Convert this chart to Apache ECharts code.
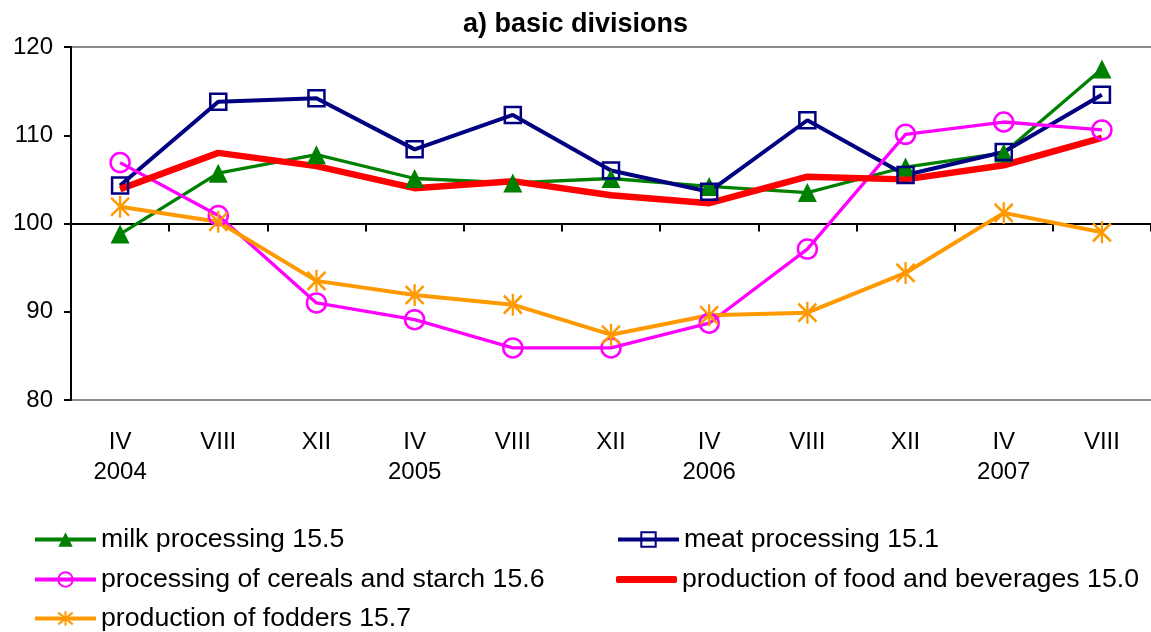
<!DOCTYPE html>
<html><head><meta charset="utf-8">
<script src="https://cdn.jsdelivr.net/npm/echarts@6/dist/echarts.min.js"></script>
<style>html,body{margin:0;padding:0;background:#fff}#c{width:1151px;height:632px}</style>
</head><body><div id="c"></div>
<script>
const titleText = 'a) basic divisions';
const categories = ['IV\n2004','VIII','XII','IV\n2005','VIII','XII','IV\n2006','VIII','XII','IV\n2007','VIII'];
const milk    = [98.8,105.7,107.8,105.1,104.6,105.1,104.2,103.5,106.4,108.0,117.5];
const meat    = [104.3,113.8,114.2,108.4,112.3,106.0,103.6,111.7,105.5,108.1,114.6];
const cereals = [106.9,100.9,91.0,89.1,85.9,85.9,88.7,97.1,110.1,111.5,110.6];
const food    = [103.9,108.0,106.5,104.0,104.8,103.2,102.3,105.3,105.0,106.6,109.7];
const fodders = [101.9,100.2,93.5,91.9,90.8,87.4,89.6,89.9,94.4,101.2,99.0];
const names = ['milk processing 15.5','meat processing 15.1','processing of cereals and starch 15.6','production of food and beverages 15.0','production of fodders 15.7'];
const yMin = 80, yMax = 120, yStep = 10, baseLine = 100;

const FONT = '"Liberation Sans", Arial, sans-serif';
const chart = echarts.init(document.getElementById('c'), null, {renderer:'canvas'});
const G = {left:71, width:1083, top:47, height:353};
const legendPos = [[33,526],[616,526],[33,566],[616,566],[33,605]];
const legendLineW = [4,4,4,7,4];
const legends = names.map((n,i)=>({
  orient:'vertical', left:legendPos[i][0], top:legendPos[i][1], padding:0,
  itemWidth:61, itemHeight: i===3 ? 7 : 18,
  data:[ i===3 ? {name:n, icon:'roundRect'} : n ],
  lineStyle:{width:legendLineW[i]},
  textStyle:{fontFamily:FONT,fontSize:26.7,color:'#000',lineHeight:26}
}));
chart.setOption({
  animation:false,
  backgroundColor:'#fff',
  title:{text:titleText,left:'center',top:6,textStyle:{fontFamily:FONT,fontSize:27,fontWeight:'bold',color:'#000'}},
  grid:[
    {left:G.left,width:G.width,top:G.top,height:G.height},
    {left:G.left,width:G.width,top:G.top,height:G.height*(yMax-baseLine)/(yMax-yMin)}
  ],
  xAxis:[
    {type:'category',data:categories,gridIndex:0,boundaryGap:true,
     axisLine:{show:false},axisTick:{show:false},splitLine:{show:false},
     axisLabel:{fontFamily:FONT,fontSize:24,color:'#000',lineHeight:30,margin:27,interval:0}},
    {type:'category',data:categories,gridIndex:1,boundaryGap:true,
     axisLine:{show:true,lineStyle:{color:'#000',width:2}},
     axisTick:{show:true,length:8,lineStyle:{color:'#000',width:2}},
     axisLabel:{show:false},splitLine:{show:false}}
  ],
  yAxis:[
    {type:'value',min:yMin,max:yMax,interval:yStep,gridIndex:0,
     axisLine:{show:true,lineStyle:{color:'#000',width:2}},
     axisTick:{show:true,length:7,lineStyle:{color:'#000',width:2}},
     axisLabel:{fontFamily:FONT,fontSize:24,color:'#000',margin:18},
     splitLine:{show:false}},
    {type:'value',min:yMin,max:yMax,interval:yMax-yMin,gridIndex:0,position:'left',
     axisLine:{show:false},axisTick:{show:false},axisLabel:{show:false},
     splitLine:{show:true,lineStyle:{color:'#8c8c8c',width:2}}},
    {type:'value',min:baseLine,max:yMax,gridIndex:1,show:false}
  ],
  legend:legends,
  series:[
    {name:names[0],type:'line',data:milk,symbol:'triangle',symbolSize:19,
     lineStyle:{color:'#008000',width:3.3},itemStyle:{color:'#008000'}},
    {name:names[1],type:'line',data:meat,symbol:'rect',symbolSize:16,
     lineStyle:{color:'#000080',width:4},itemStyle:{color:'rgba(0,0,0,0)',borderColor:'#000080',borderWidth:2.5}},
    {name:names[2],type:'line',data:cereals,symbol:'circle',symbolSize:19,
     lineStyle:{color:'#ff00ff',width:3.3},itemStyle:{color:'rgba(0,0,0,0)',borderColor:'#ff00ff',borderWidth:2.5}},
    {name:names[3],type:'line',data:food,symbol:'none',
     lineStyle:{color:'#ff0000',width:6.5},itemStyle:{color:'#ff0000'}},
    {name:names[4],type:'line',data:fodders,symbol:'path://M0,2L18,20M18,2L0,20M9,0L9,22',symbolSize:[18,22],
     lineStyle:{color:'#ff9900',width:4},itemStyle:{color:'none',borderColor:'#ff9900',borderWidth:2.5}}
  ]
});
</script></body></html>
